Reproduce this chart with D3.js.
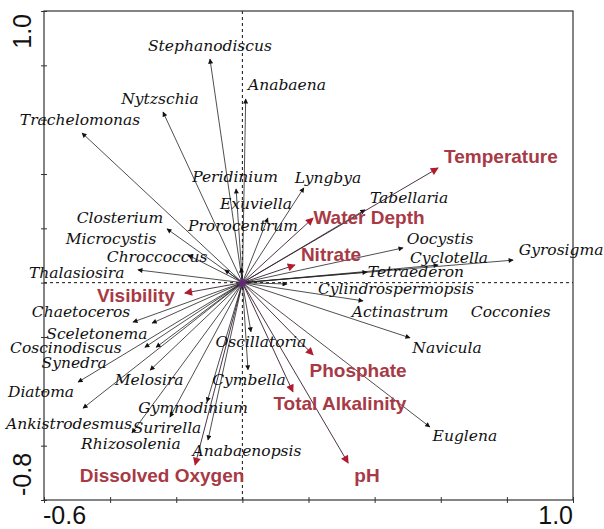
<!DOCTYPE html>
<html>
<head>
<meta charset="utf-8">
<script src="https://cdn.jsdelivr.net/npm/d3@7"></script>
<style>
  body { margin: 0; background: white; }
  svg { display: block; }
</style>
</head>
<body>
<svg id="plot"></svg>
<script>
svgWidth = 604;
svgHeight = 529;
margin = {top: 11, right: 31, bottom: 29, left: 44};

// species scores (arrow tips) and their label spots, in axis units
speciesNames = ["Stephanodiscus", "Anabaena", "Nytzschia", "Trachelomonas",
    "Peridinium", "Lyngbya", "Exuviella", "Prorocentrum", "Closterium",
    "Microcystis", "Chroccoccus", "Tabellaria", "Oocystis", "Cyclotella",
    "Gyrosigma", "Tetraederon", "Cylindrospermopsis", "Thalasiosira",
    "Actinastrum", "Cocconies", "Chaetoceros", "Sceletonema", "Coscinodiscus",
    "Oscillatoria", "Navicula", "Synedra", "Melosira", "Cymbella", "Diatoma",
    "Gymnodinium", "Ankistrodesmus", "Surirella", "Euglena", "Rhizosolenia",
    "Anabaenopsis"];
speciesX = [-0.098, 0.010, -0.240, -0.485, -0.019, 0.186, 0.077, -0.004,
    -0.228, -0.165, -0.053, 0.371, 0.486, 0.592, 0.819, 0.377, 0.135, -0.316,
    0.365, null, -0.331, -0.273, -0.295, 0.026, 0.507, -0.261, -0.279, 0.017,
    -0.497, -0.107, -0.482, -0.219, 0.567, -0.334, -0.104];
speciesY = [0.823, 0.676, 0.628, 0.551, 0.345, 0.349, 0.238, 0.054, 0.198,
    0.102, 0.047, 0.268, 0.128, 0.065, 0.083, 0.039, -0.005, 0.047, -0.067,
    null, -0.145, -0.149, -0.238, -0.181, -0.203, -0.238, -0.322, -0.321,
    -0.366, -0.439, -0.462, -0.495, -0.531, -0.553, -0.579];
speciesLabelX = [-0.098, 0.135, -0.249, -0.491, -0.022, 0.259, 0.041, 0.002,
    -0.370, -0.397, -0.258, 0.504, 0.598, 0.625, 0.964, 0.525, 0.465, -0.501,
    0.477, 0.812, -0.488, -0.440, -0.534, 0.056, 0.619, -0.509, -0.282, 0.020,
    -0.609, -0.149, -0.524, -0.228, 0.673, -0.337, 0.014];
speciesLabelY = [0.871, 0.728, 0.676, 0.599, 0.389, 0.385, 0.289, 0.209,
    0.239, 0.161, 0.095, 0.312, 0.161, 0.091, 0.120, 0.039, -0.023, 0.036,
    -0.108, -0.108, -0.108, -0.189, -0.240, -0.218, -0.240, -0.296, -0.358,
    -0.358, -0.402, -0.461, -0.520, -0.535, -0.565, -0.594, -0.620];

// environmental variables
envNames = ["Temperature", "Water Depth", "Nitrate", "Visibility", "Phosphate",
    "Total Alkalinity", "Dissolved Oxygen", "pH"];
envX = [0.592, 0.214, 0.159, -0.174, 0.214, 0.153, -0.143, 0.320];
envY = [0.422, 0.238, 0.065, -0.038, -0.266, -0.402, -0.671, -0.664];
envLabelX = [0.782, 0.383, 0.268, -0.322, 0.350, 0.295, -0.243, 0.377];
envLabelY = [0.466, 0.239, 0.102, -0.049, -0.325, -0.446, -0.711, -0.711];

xTicks = [-0.6, -0.4, -0.2, 0, 0.2, 0.4, 0.6, 0.8, 1.0];
yTicks = [-0.8, -0.6, -0.4, -0.2, 0, 0.2, 0.4, 0.6, 0.8, 1.0];
xTickLabels = ["-0.6", "1.0"];
yTickLabels = ["-0.8", "1.0"];

const envColor = "#b01c2e";

function chartMain() {
    x = d3.scaleLinear()
        .domain([-0.6, 1.0])
        .range([margin.left, svgWidth - margin.right]);

    y = d3.scaleLinear()
        .domain([-0.8, 1.0])
        .range([svgHeight - margin.bottom, margin.top]);

    const svg = d3.select("#plot")
        .attr("width", svgWidth)
        .attr("height", svgHeight)
        .attr("viewBox", [0, 0, svgWidth, svgHeight]);

    const defs = svg.append("defs");
    defs.append("marker")
        .attr("id", "headSp")
        .attr("viewBox", "0 0 10 10")
        .attr("refX", 9).attr("refY", 5)
        .attr("markerUnits", "userSpaceOnUse")
        .attr("markerWidth", 6).attr("markerHeight", 5)
        .attr("orient", "auto")
        .append("path")
        .attr("d", "M0,0L10,5L0,10z")
        .attr("fill", "#111");
    defs.append("marker")
        .attr("id", "headEnv")
        .attr("viewBox", "0 0 10 10")
        .attr("refX", 9).attr("refY", 5)
        .attr("markerUnits", "userSpaceOnUse")
        .attr("markerWidth", 11).attr("markerHeight", 8)
        .attr("orient", "auto")
        .append("path")
        .attr("d", "M0,0L10,5L0,10z")
        .attr("fill", envColor);

    // zero lines
    svg.append("line")
        .attr("x1", x(0)).attr("x2", x(0))
        .attr("y1", y(1.0)).attr("y2", y(-0.8))
        .attr("stroke", "#111")
        .attr("stroke-dasharray", "3,3");
    svg.append("line")
        .attr("x1", x(-0.6)).attr("x2", x(1.0))
        .attr("y1", y(0)).attr("y2", y(0))
        .attr("stroke", "#111")
        .attr("stroke-dasharray", "3,3");

    // axes
    svg.append("g")
        .attr("transform", `translate(0,${y(-0.8)})`)
        .call(d3.axisBottom(x).tickValues(xTicks).tickSize(3)
            .tickSizeOuter(0).tickFormat(""))
        .call(g => g.select(".domain").remove())
        .selectAll("line").attr("stroke", "#333").attr("y1", -3);
    svg.append("g")
        .attr("transform", `translate(${x(-0.6)},0)`)
        .call(d3.axisLeft(y).tickValues(yTicks).tickSize(3)
            .tickSizeOuter(0).tickFormat(""))
        .call(g => g.select(".domain").remove())
        .selectAll("line").attr("stroke", "#333").attr("x1", 3);

    svg.append("rect")
        .attr("x", x(-0.6)).attr("y", y(1.0))
        .attr("width", x(1.0) - x(-0.6))
        .attr("height", y(-0.8) - y(1.0))
        .attr("fill", "none")
        .attr("stroke", "#333")
        .attr("stroke-width", 1.2);

    svg.append("g")
        .selectAll("text")
        .data(xTickLabels)
        .join("text")
        .attr("x", (d, i) => i === 0 ? x(+d) - 1 : x(+d))
        .attr("y", svgHeight - 5)
        .attr("text-anchor", (d, i) => i === 0 ? "start" : "end")
        .attr("font-family", "Liberation Sans, Arial, sans-serif")
        .attr("font-size", 25)
        .attr("fill", "#111")
        .text(d => d);

    svg.append("g")
        .selectAll("text")
        .data(yTickLabels)
        .join("text")
        .attr("transform", (d, i) =>
            `translate(31,${y(+d) + (i === 0 ? -4 : 3)}) rotate(-90)`)
        .attr("text-anchor", (d, i) => i === 0 ? "start" : "end")
        .attr("font-family", "Liberation Sans, Arial, sans-serif")
        .attr("font-size", 25)
        .attr("fill", "#111")
        .text(d => d);

    // species arrows
    const species = speciesNames.map((name, i) => ({
        name: name, x: speciesX[i], y: speciesY[i],
        lx: speciesLabelX[i], ly: speciesLabelY[i]
    }));

    svg.append("g")
        .selectAll("line")
        .data(species.filter(d => d.x !== null))
        .join("line")
        .attr("x1", x(0)).attr("y1", y(0))
        .attr("x2", d => x(d.x)).attr("y2", d => y(d.y))
        .attr("stroke", "#222")
        .attr("stroke-width", 0.8)
        .attr("marker-end", "url(#headSp)");

    // env arrows
    const env = envNames.map((name, i) => ({
        name: name, x: envX[i], y: envY[i], lx: envLabelX[i], ly: envLabelY[i]
    }));

    svg.append("g")
        .selectAll("line")
        .data(env)
        .join("line")
        .attr("x1", x(0)).attr("y1", y(0))
        .attr("x2", d => x(d.x)).attr("y2", d => y(d.y))
        .attr("stroke", "#3a1d33")
        .attr("stroke-width", 0.9)
        .attr("marker-end", "url(#headEnv)");

    svg.append("circle")
        .attr("cx", x(0)).attr("cy", y(0))
        .attr("r", 4)
        .attr("fill", "#6b2a86")
        .attr("opacity", 0.8);

    svg.append("g")
        .selectAll("text")
        .data(species)
        .join("text")
        .attr("x", d => x(d.lx))
        .attr("y", d => y(d.ly))
        .attr("text-anchor", "middle")
        .attr("dominant-baseline", "central")
        .attr("font-family", "DejaVu Serif, serif")
        .attr("font-style", "italic")
        .attr("font-size", 15.5)
        .attr("fill", "#111")
        .text(d => d.name);

    svg.append("g")
        .selectAll("text")
        .data(env)
        .join("text")
        .attr("x", d => x(d.lx))
        .attr("y", d => y(d.ly))
        .attr("text-anchor", "middle")
        .attr("dominant-baseline", "central")
        .attr("font-family", "Liberation Sans, Arial, sans-serif")
        .attr("font-weight", "bold")
        .attr("font-size", 19)
        .attr("fill", "#a73a45")
        .text(d => d.name);
}

chartMain();
</script>
</body>
</html>
